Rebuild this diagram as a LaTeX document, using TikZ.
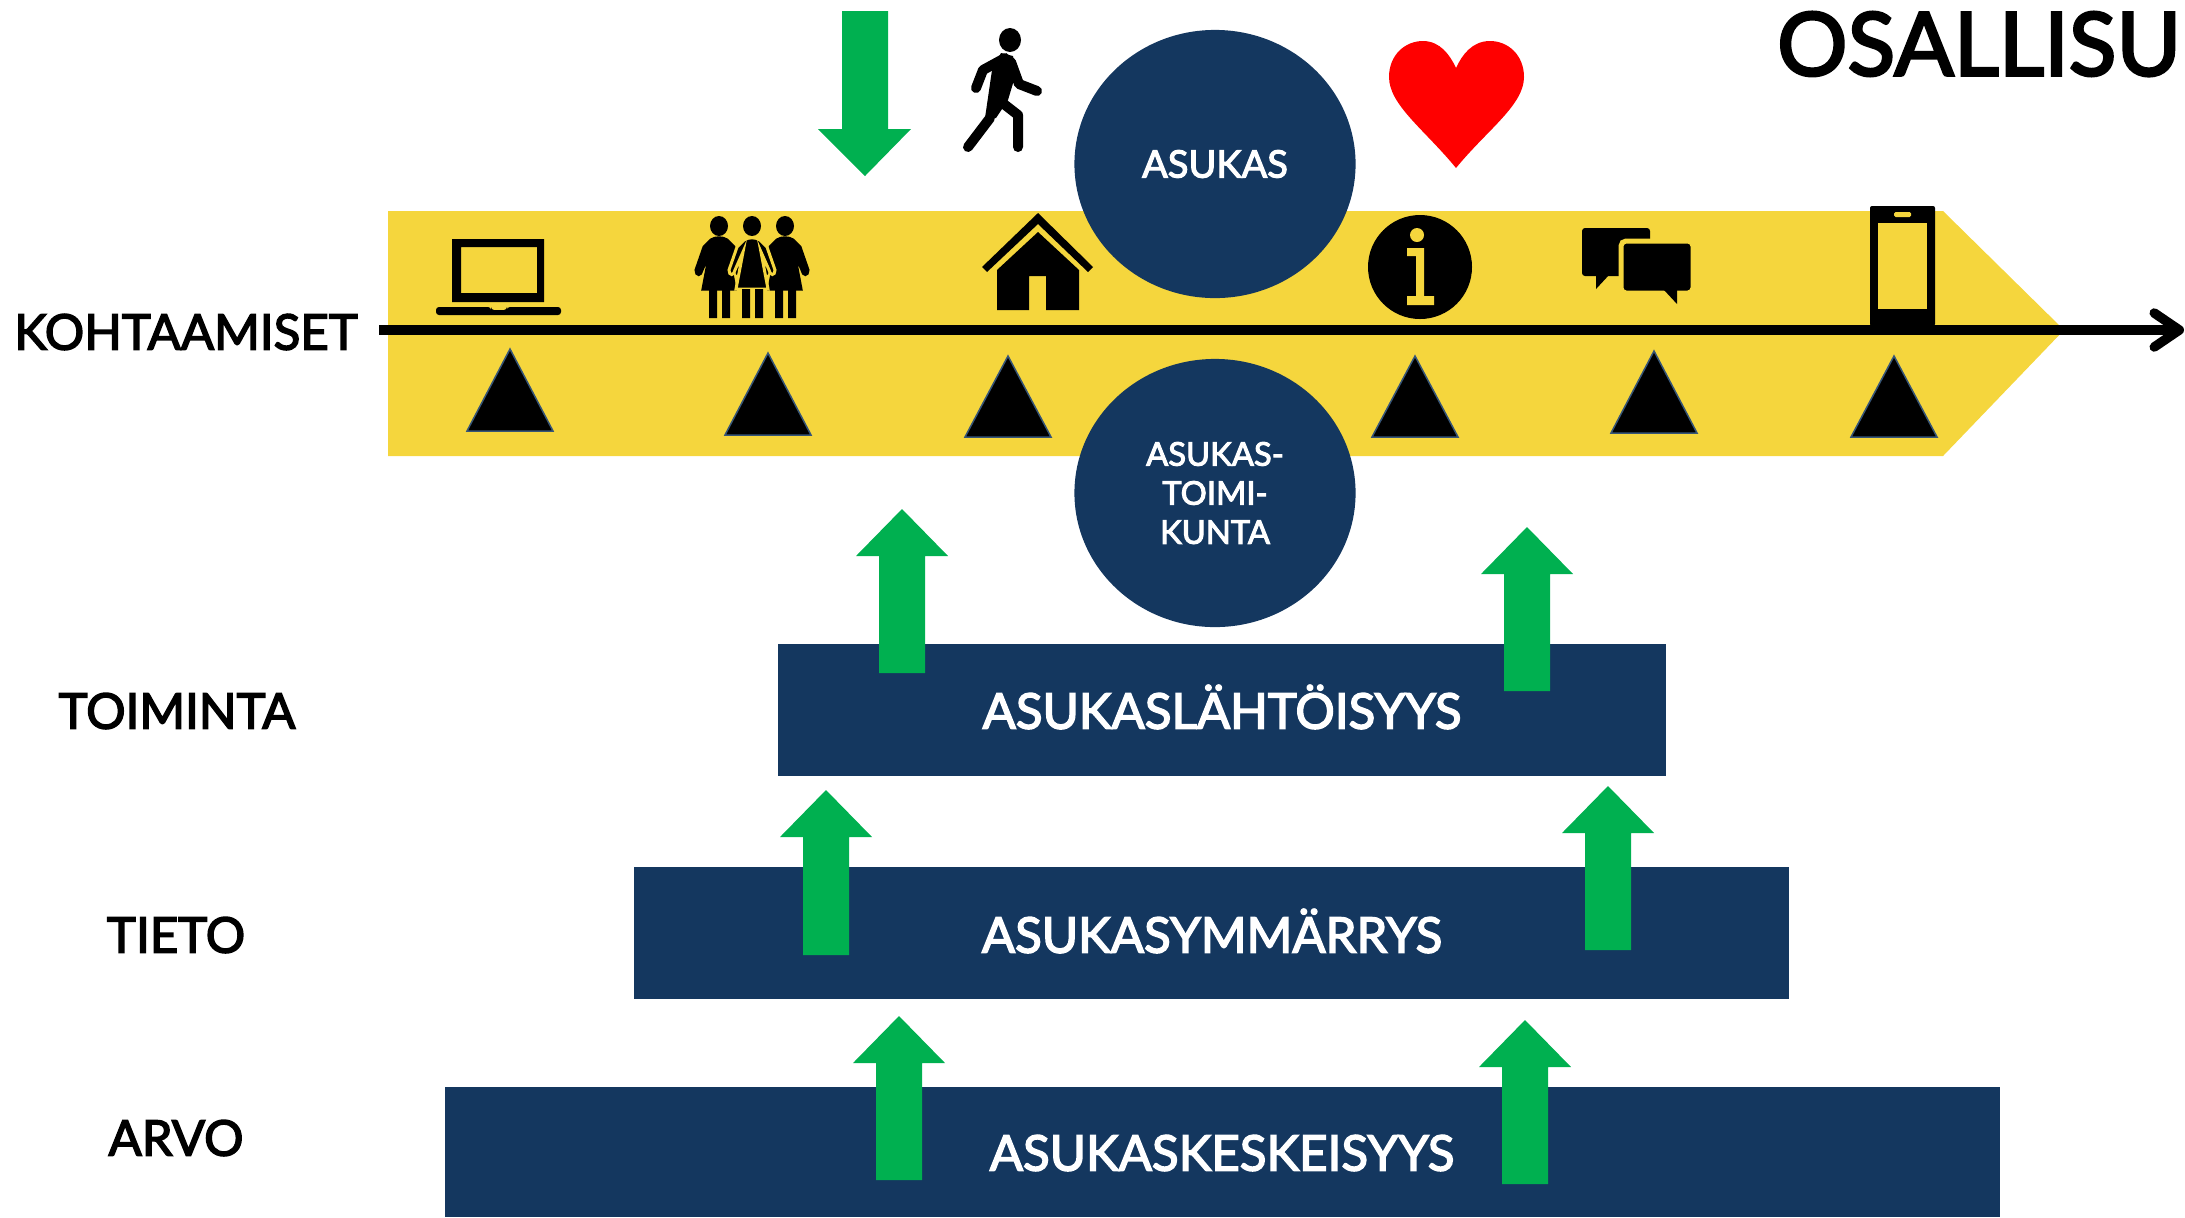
\documentclass[tikz,border=0pt]{standalone}
\usepackage{fontspec}
\usepackage{xcolor}
\setmainfont{Lato}[FakeBold=3]
\usetikzlibrary{arrows.meta}
\usetikzlibrary{shapes.geometric}
\definecolor{bandyellow}{HTML}{F5D63D}
\definecolor{darkblue}{HTML}{14375F}
\definecolor{arrowgreen}{HTML}{00B050}
\tikzstyle{block} = [fill=darkblue, text=white, inner sep=0pt,
	font=\fontsize{14pt}{14pt}\selectfont]
\tikzstyle{bubble} = [ellipse, fill=darkblue, text=white, inner sep=0pt, align=center,
	minimum width=2.81cm,
	minimum height=2.68cm,
	font=\fontsize{10.8pt}{11.2pt}\selectfont]
\tikzstyle{label} = [font=\fontsize{14pt}{14pt}\selectfont]
\tikzstyle{timeline} = [-{Straight Barb[length=2.5mm, width=3.4mm, round]}, line width=0.095cm]
\tikzstyle{icon} = [fill=black, draw=none]
\newcommand{\drawup}[3]{\fill[arrowgreen] (#1-23,#3) -- (#1+23,#3) -- (#1+23,#2+47) -- (#1+46,#2+47)
	-- (#1,#2) -- (#1-46,#2+47) -- (#1-23,#2+47) -- cycle}
\newcommand{\drawtriangle}[3]{\draw[fill=black, draw=darkblue!85!white, line width=0.015cm]
	(#1,#2) -- (#1+43,#3) -- (#1-43,#3) -- cycle}
\newcommand{\drawwoman}[2]{\fill[black] (#1,226) ellipse (9 and 10);
	\filldraw[black, draw=#2, line width=0.03cm] (#1-8,240) .. controls (#1-4,237) and (#1+4,237) .. (#1+8,240)
	-- (#1+15,247) -- (#1+23,270) .. controls (#1+23,276) and (#1+18,276) .. (#1+17,270) -- (#1+9,252)
	-- (#1+16,289) -- (#1-16,289) -- (#1-9,252) -- (#1-17,270) .. controls (#1-18,276) and (#1-23,276) .. (#1-23,270)
	-- (#1-15,247) -- cycle;
	\fill[black] (#1-10,289) rectangle (#1-2,318) (#1+3,289) rectangle (#1+11,318)}
\begin{document}
\begin{tikzpicture}[x=0.01cm, y=-0.01cm]
	\useasboundingbox (0,0) rectangle (2185,1217);
	
	% yellow band and the time line
	\fill[bandyellow] (388,211) -- (1943,211) -- (2064,330) -- (1943,456) -- (388,456) -- cycle;
	
	\node (asukas)[bubble] at (1215,164) {ASUKAS};
	\node (toimikunta)[bubble, font=\fontsize{9.3pt}{11.1pt}\selectfont] at (1215,493) {ASUKAS-\\TOIMI-\\KUNTA};
	
	\node (kohtaamiset)[label] at (186,332) {KOHTAAMISET};
	\node (toiminta)[label] at (177,711) {TOIMINTA};
	\node (tieto)[label] at (176,935) {TIETO};
	\node (arvo)[label] at (176,1138) {ARVO};
	\node (osallisu)[font=\fontsize{25pt}{25pt}\selectfont] at (1979,44) {OSALLISU};
	
	\coordinate (linestart) at (379,330);
	\coordinate (lineend) at (2184,330);
	\draw [timeline] (linestart) -- (lineend);
	
	\node (block1)[block, minimum width=8.87cm, minimum height=1.32cm] at (1222,710) {};
	\node (block2)[block, minimum width=11.55cm, minimum height=1.32cm] at (1211.5,933) {};
	\node (block3)[block, minimum width=15.55cm, minimum height=1.30cm] at (1222.5,1152) {};
	\node (text1)[block, fill=none] at (1222,707) {ASUKASLÄHTÖISYYS};
	\node (text2)[block, fill=none] at (1212,931) {ASUKASYMMÄRRYS};
	\node (text3)[block, fill=none] at (1222,1153) {ASUKASKESKEISYYS};
	
	% green arrows
	\fill[arrowgreen] (842,11) -- (888,11) -- (888,129) -- (911,129) -- (865,176) -- (818,129) -- (842,129) -- cycle;
	\drawup{902}{509}{673};
	\drawup{1527}{527}{691};
	\drawup{826}{790}{955};
	\drawup{1608}{786}{950};
	\drawup{899}{1016}{1180};
	\drawup{1525}{1020}{1184};
	
	% triangles
	\drawtriangle{510}{349}{431};
	\drawtriangle{768}{353}{435};
	\drawtriangle{1008}{356}{437};
	\drawtriangle{1415}{356}{437};
	\drawtriangle{1654}{351}{433};
	\drawtriangle{1894}{356}{437};
	
	% walking person
	\fill[black] (1010,40) ellipse (11 and 12);
	\draw[line width=0.1cm, line cap=round, line join=round] (1005,58) -- (983,70) -- (976,88);
	\draw[line width=0.1cm, line cap=round, line join=round] (1011,62) -- (1019,84) -- (1037,91);
	\draw[line width=0.1cm, line cap=round, line join=round] (990,118) -- (968,147);
	\draw[line width=0.1cm, line cap=round, line join=round] (1000,101) -- (1018,115) -- (1018,147);
	\fill[black] (1001,53) -- (1013,56) -- (1014,80) -- (1008,100) -- (996,118) -- (985,118) -- (992,70) -- cycle;
	
	% laptop
	\fill[black, even odd rule] (452,239) rectangle (544,302) (461,247) rectangle (537,293);
	\fill[icon, rounded corners=0.03cm] (436,307) -- (491,307) -- (491,310) -- (507,310) -- (507,307) -- (561,307) -- (561,315) -- (436,315) -- cycle;
	
	% three women
	\drawwoman{719}{black};
	\drawwoman{785}{black};
	\drawwoman{752}{bandyellow};
	
	% house
	\fill[icon] (1038,213) -- (1093,267) -- (1088,272) -- (1038,224) -- (987,272) -- (982,267) -- cycle;
	\fill[icon] (1038,232) -- (1079,270) -- (1079,310) -- (1046,310) -- (1046,276) -- (1029,276) -- (1029,310) -- (997,310) -- (997,270) -- cycle;
	
	% heart
	\fill[red] (1456,168) .. controls (1425,130) and (1389,105) .. (1389,77)
	.. controls (1389,55) and (1405,41) .. (1423,41)
	.. controls (1440,41) and (1450,55) .. (1456,68)
	.. controls (1462,55) and (1472,41) .. (1490,41)
	.. controls (1508,41) and (1524,55) .. (1524,77)
	.. controls (1524,105) and (1487,130) .. (1456,168) -- cycle;
	
	% info sign
	\fill[black] (1420,267) ellipse (52 and 52);
	\fill[bandyellow] (1417,235) ellipse (7 and 7);
	\fill[bandyellow] (1407,248) -- (1424,248) -- (1424,296) -- (1434,296) -- (1434,305) -- (1407,305) -- (1407,296) -- (1416,296) -- (1416,256) -- (1407,256) -- cycle;
	
	% chat
	\fill[icon, rounded corners=0.03cm] (1582,228) -- (1650,228) -- (1650,276) -- (1609,276) -- (1596,276) -- (1582,276) -- cycle;
	\fill[icon] (1596,275) -- (1609,275) -- (1596,289) -- cycle;
	\filldraw[black, draw=bandyellow, line width=0.05cm, rounded corners=0.05cm] (1621,241) rectangle (1693,293);
	\fill[icon] (1664,290) -- (1677,290) -- (1677,304) -- cycle;
	
	% phone
	\fill[icon, rounded corners=0.02cm] (1870,206) rectangle (1935,326);
	\fill[bandyellow] (1878,223) rectangle (1927,309);
	\fill[bandyellow, rounded corners=0.015cm] (1894,212) rectangle (1911,217);
\end{tikzpicture}
\end{document}
